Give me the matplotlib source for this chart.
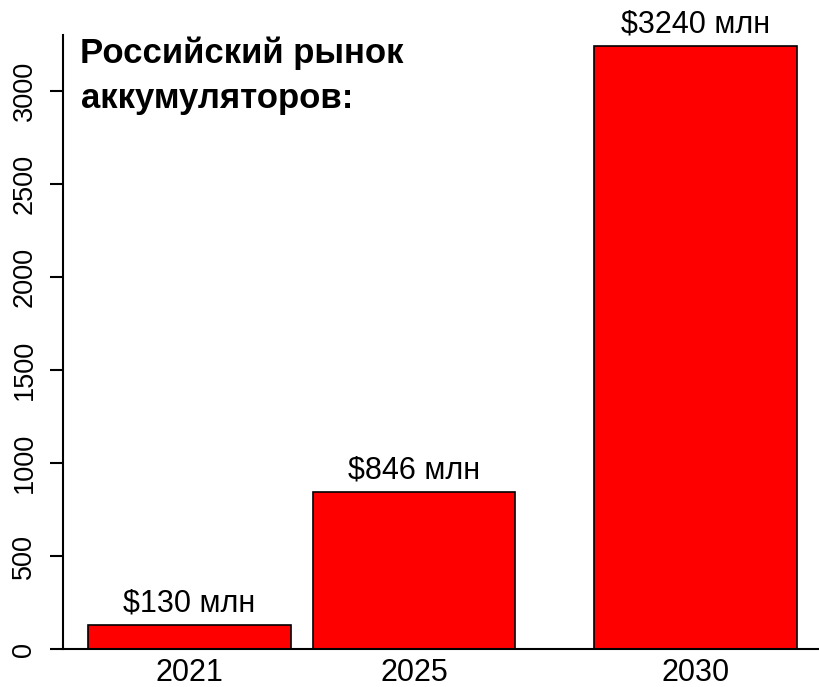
import matplotlib
matplotlib.use('Agg')
import matplotlib.pyplot as plt

years = [2021, 2025, 2030]
values = [130, 846, 3240]
bar_labels = ['$130 млн', '$846 млн', '$3240 млн']
yticks = [0, 500, 1000, 1500, 2000, 2500, 3000]
title_lines = ['Российский рынок', 'аккумуляторов:']

plt.rcParams['font.family'] = ['Liberation Sans', 'DejaVu Sans']

W, H = 819, 687
fig = plt.figure(figsize=(W / 100, H / 100), dpi=100)
# axes placed in pixel terms: y spine at x=63, zero line at y=649
ax = fig.add_axes([63 / W, (H - 649.3) / H, 1 - 63 / W, (649.3 - 35) / H])

ax.bar(years, values, width=3.6, color='#ff0000', edgecolor='black', linewidth=1.2)
for x, v, lab in zip(years, values, bar_labels):
    ax.text(x, v + 35, lab, ha='center', va='bottom', fontsize=22)

ax.set_xlim(2018.75, 2032.2)
ax.set_ylim(0, 3300)
ax.set_xticks(years)
ax.set_xticklabels([str(y) for y in years], fontsize=22)
ax.tick_params(axis='x', length=0, pad=6)
ax.set_yticks(yticks)
ax.set_yticklabels([str(t) for t in yticks], rotation=90, va='center', fontsize=19.5)
ax.tick_params(axis='y', length=9.4, width=1.5, pad=9)

for s in ['top', 'right']:
    ax.spines[s].set_visible(False)
for s in ['left', 'bottom']:
    ax.spines[s].set_linewidth(1.5)

fig.text(80.5 / W, 1 - 63 / H, title_lines[0], fontsize=25, fontweight='bold', va='baseline')
fig.text(80.5 / W, 1 - 108 / H, title_lines[1], fontsize=25, fontweight='bold', va='baseline')

fig.savefig('out.png', dpi=100)
